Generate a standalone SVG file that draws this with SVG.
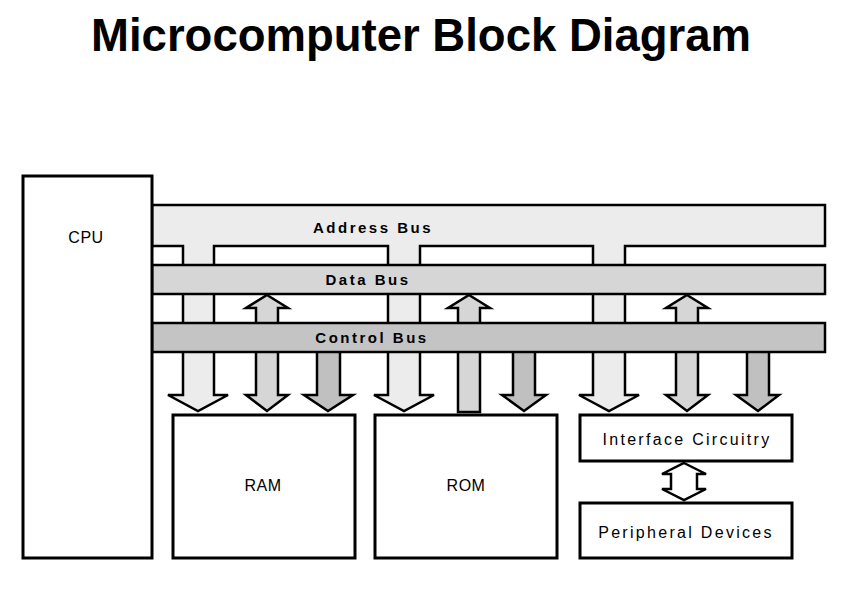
<svg xmlns="http://www.w3.org/2000/svg" width="855" height="599" viewBox="0 0 855 599">
<style>
.t{font-family:"Liberation Sans",Arial,sans-serif;fill:#000}
.bl{font-size:15px;font-weight:bold;letter-spacing:2.5px}
.bx{fill:#fff;stroke:#000;stroke-width:3}
.lb{font-size:16px;letter-spacing:0.5px}
.wide{letter-spacing:2.3px}
.ln{stroke:#000;stroke-width:2.5;stroke-linejoin:miter}
</style>
<rect width="855" height="599" fill="#fff"/>
<text class="t" x="421" y="51" text-anchor="middle" font-size="45.5" font-weight="bold">Microcomputer Block Diagram</text>
<g id="connectors">
<path id="address-bus" class="ln" fill="#ececec" d="M152,205 H825 V246 H625 V395 H639 L609,411 L579,395 H593 V246 H420 V395 H434 L404,411 L374,395 H388 V246 H214 V395 H228 L198,411 L168,395 H183 V246 H152 Z"/>
<path class="ln" fill="#d6d6d6" d="M267,295 L288,308 H278 V395 H288 L267,411 L246,395 H256 V308 H246 Z"/>
<path class="ln" fill="#d6d6d6" d="M469,295 L490,308 H480 V412 H458 V308 H448 Z"/>
<path class="ln" fill="#d6d6d6" d="M687,295 L708,308 H698 V395 H708 L687,411 L666,395 H676 V308 H666 Z"/>
<rect id="data-bus" class="ln" x="152" y="265" width="673" height="29" fill="#d6d6d6" stroke-width="3.5"/>
<path class="ln" fill="#c0c0c0" d="M317,340 H340 V395 H353 L328,411 L304,395 H317 Z"/>
<path class="ln" fill="#c0c0c0" d="M513,340 H535 V395 H546 L524,411 L502,395 H513 Z"/>
<path class="ln" fill="#c0c0c0" d="M747,340 H769 V395 H779 L758,411 L736,395 H747 Z"/>
<rect id="control-bus" class="ln" x="152" y="323" width="673" height="29" fill="#c4c4c4"/>
<path class="ln" fill="#fff" d="M684,463 L706,474 H697 V489 H706 L684,500 L662,489 H671 V474 H662 Z"/>
<text class="t bl" x="373" y="233" text-anchor="middle">Address Bus</text>
<text class="t bl" x="368" y="285" text-anchor="middle">Data Bus</text>
<text class="t bl" x="372" y="343" text-anchor="middle">Control Bus</text>
</g>
<g id="cpu"><rect class="bx" x="23" y="176" width="129" height="382"/><text class="t lb" x="86" y="243" text-anchor="middle">CPU</text></g>
<g id="ram"><rect class="bx" x="173" y="415" width="182" height="143"/><text class="t lb" x="263" y="491" text-anchor="middle">RAM</text></g>
<g id="rom"><rect class="bx" x="375" y="415" width="182" height="143"/><text class="t lb" x="466" y="491" text-anchor="middle">ROM</text></g>
<g id="interface"><rect class="bx" x="580" y="415" width="212" height="46"/><text class="t lb wide" x="687" y="445" text-anchor="middle">Interface Circuitry</text></g>
<g id="peripheral"><rect class="bx" x="580" y="503" width="212" height="55"/><text class="t lb wide" x="686" y="538" text-anchor="middle">Peripheral Devices</text></g>
</svg>
